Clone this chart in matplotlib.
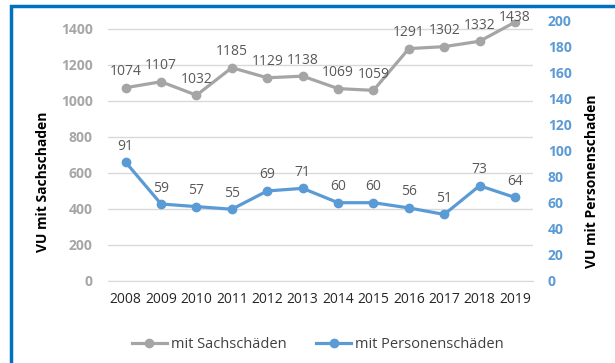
import matplotlib
matplotlib.use("Agg")
import matplotlib.pyplot as plt
from matplotlib.patches import Rectangle

years = [2008, 2009, 2010, 2011, 2012, 2013, 2014, 2015, 2016, 2017, 2018, 2019]
sachschaden = [1074, 1107, 1032, 1185, 1129, 1138, 1069, 1059, 1291, 1302, 1332, 1438]
personenschaden = [91, 59, 57, 55, 69, 71, 60, 60, 56, 51, 73, 64]
left_ticks = [0, 200, 400, 600, 800, 1000, 1200, 1400]
right_ticks = [0, 20, 40, 60, 80, 100, 120, 140, 160, 180, 200]

GRAY = "#A5A5A5"
BLUE = "#5B9BD5"
FONT = "Open Sans"

plt.rcParams["font.family"] = [FONT, "DejaVu Sans"]

fig = plt.figure(figsize=(6.15, 3.63), dpi=100)
ax = fig.add_axes([108 / 615, 1 - 281 / 363, (532.7 - 108) / 615, (281 - 20) / 363])
ax2 = ax.twinx()

x = list(range(len(years)))

ax.plot(x, sachschaden, color=GRAY, lw=2.3, marker="o", ms=6, zorder=3,
        label="mit Sachschäden")
ax2.plot(x, personenschaden, color=BLUE, lw=2.3, marker="o", ms=6, zorder=3,
         label="mit Personenschäden")

for i, (xi, v) in enumerate(zip(x, sachschaden)):
    # the topmost label sits lower so it stays inside the plot area
    dy = 1 if i == len(x) - 1 else 9
    ax.annotate(str(v), (xi, v), xytext=(0, dy), textcoords="offset points",
                ha="center", va="baseline", fontsize=10, color="#595959", zorder=4)
for xi, v in zip(x, personenschaden):
    ax2.annotate(str(v), (xi, v), xytext=(0, 9), textcoords="offset points",
                 ha="center", va="baseline", fontsize=10, color="#595959")

ax.set_xlim(-0.5, len(years) - 0.5)
ax.set_ylim(0, 1450)
ax2.set_ylim(0, 200)

ax.set_yticks(left_ticks)
ax.set_yticklabels([str(t) for t in left_ticks], fontsize=10, fontweight="bold",
                   color="#A6A6A6")
ax2.set_yticks(right_ticks)
ax2.set_yticklabels([str(t) for t in right_ticks], fontsize=10, fontweight="bold",
                    color=BLUE)
ax.set_xticks(x)
ax.set_xticklabels([str(y) for y in years], fontsize=10, color="#262626")

ax.tick_params(axis="y", length=0, pad=11)
ax2.tick_params(axis="y", length=0, pad=11)
ax.tick_params(axis="x", length=0, pad=8)

ax.grid(axis="y", color="#D9D9D9", lw=1)
ax.set_axisbelow(True)
for a in (ax, ax2):
    for s in a.spines.values():
        s.set_visible(False)
ax.spines["bottom"].set_visible(True)
ax.spines["bottom"].set_color("#D9D9D9")

ax.set_ylabel("VU mit Sachschaden", fontsize=10, fontweight="bold", color="black")
ax2.set_ylabel("VU mit Personenschaden", fontsize=10, fontweight="bold", color="black")
ax.yaxis.set_label_coords(50 / 615, 0.5, transform=fig.transFigure)
ax2.yaxis.set_label_coords(585 / 615, 0.5, transform=fig.transFigure)

h1, l1 = ax.get_legend_handles_labels()
h2, l2 = ax2.get_legend_handles_labels()
fig.legend(h1 + h2, l1 + l2, loc="center", bbox_to_anchor=(318 / 615, 1 - 345 / 363),
           ncol=2, frameon=False, fontsize=10.5, handlelength=2.4, columnspacing=2.0,
           handletextpad=0.3, labelcolor="#404040")

# blue frame running along the top and left edges
fig.patches.append(Rectangle((11 / 615, -0.1), 1.2, 1.1 - 6 / 363,
                             transform=fig.transFigure, fill=False,
                             edgecolor="#0070C0", lw=2.5, clip_on=False))

fig.savefig("out.png", dpi=100)
